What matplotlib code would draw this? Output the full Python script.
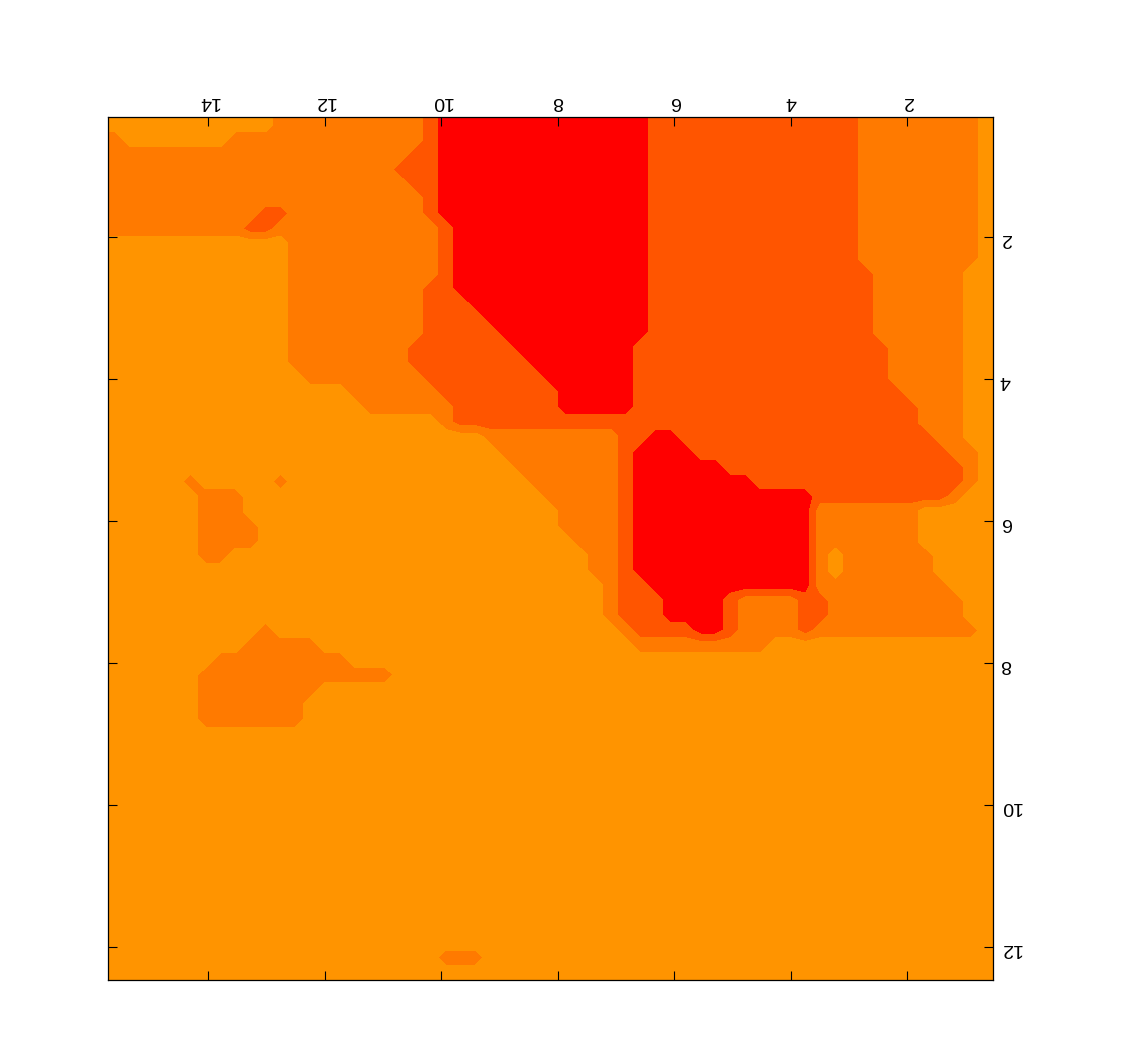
import numpy as np
import matplotlib
matplotlib.use("Agg")
import matplotlib.pyplot as plt

# class levels: 0 = red, 1 = dark orange, 2 = orange, 3 = light orange
level_colors = ["#FF0000", "#FF5500", "#FF7A00", "#FF9400"]
level_bounds = [-0.5, 0.5, 1.5, 2.5, 3.5]

# data extent of the gridded field
x_min, x_max = 0.53, 15.72
y_min, y_max = 0.31, 12.465
n_cols = 59

x_ticks = [2, 4, 6, 8, 10, 12, 14]
y_ticks = [2, 4, 6, 8, 10, 12]

# each row: "level@first_column" change points, rows ordered from y_min to y_max,
# columns ordered from x_max down to x_min
rows = [
    "3@0 2@11 1@21 0@22 1@36 2@50 3@58",
    "2@0 3@1 2@8 1@21 0@22 1@36 2@50 3@58",
    "2@0 1@20 0@22 1@36 2@50 3@58",
    "2@0 1@19 0@22 1@36 2@50 3@58",
    "2@0 1@20 0@22 1@36 2@50 3@58",
    "2@0 1@21 0@22 1@36 2@50 3@58",
    "2@0 1@10 2@12 1@21 0@22 1@36 2@50 3@58",
    "2@0 1@9 2@11 1@22 0@23 1@36 2@50 3@58",
    "3@0 2@12 1@22 0@23 1@36 2@50 3@58",
    "3@0 2@12 1@22 0@23 1@36 2@50 3@58",
    "3@0 2@12 1@22 0@23 1@36 2@51 3@57",
    "3@0 2@12 1@21 0@23 1@36 2@51 3@57",
    "3@0 2@12 1@21 0@24 1@36 2@51 3@57",
    "3@0 2@12 1@21 0@25 1@36 2@51 3@57",
    "3@0 2@12 1@21 0@26 1@36 2@51 3@57",
    "3@0 2@12 1@20 0@27 1@35 2@52 3@57",
    "3@0 2@12 1@20 0@28 1@35 2@52 3@57",
    "3@0 2@13 1@21 0@29 1@35 2@52 3@57",
    "3@0 2@16 1@22 0@30 1@35 2@53 3@57",
    "3@0 2@17 1@23 0@30 1@35 2@54 3@57",
    "3@0 2@22 1@23 2@54 3@57",
    "3@0 2@25 1@34 0@36 1@38 2@55 3@57",
    "3@0 2@26 1@34 0@35 1@39 2@56 3@58",
    "3@0 2@27 1@34 0@35 1@41 2@57 3@58",
    "3@0 2@5 3@6 2@11 3@12 2@28 1@34 0@35 1@43 2@57 3@58",
    "3@0 2@6 3@9 2@29 1@34 0@35 1@47 2@56 3@57",
    "3@0 2@6 3@9 2@30 1@34 0@35 2@47 3@54",
    "3@0 2@6 3@10 2@30 1@34 0@35 2@47 3@54",
    "3@0 2@6 3@10 2@31 1@34 0@35 2@47 3@54",
    "3@0 2@6 3@8 2@32 1@34 0@35 2@47 3@48 2@49 3@55",
    "3@0 2@32 1@34 0@35 2@47 3@48 2@49 3@55",
    "3@0 2@33 1@34 0@36 2@47 3@56",
    "3@0 2@33 1@34 0@37 1@41 2@42 1@46 2@48 3@57",
    "3@0 2@33 1@34 0@37 1@41 2@42 1@46 2@48 3@57",
    "3@0 2@10 3@11 2@34 1@35 0@39 1@41 2@42 1@46 2@47 3@58",
    "3@0 2@9 3@14 2@35 3@44",
    "3@0 2@7 3@16",
    "3@0 2@6 3@19",
    "3@0 2@6 3@14",
    "3@0 2@6 3@13",
    "3@0 2@6 3@13",
    "3@0", "3@0", "3@0", "3@0", "3@0",
    "3@0", "3@0", "3@0", "3@0", "3@0",
    "3@0", "3@0", "3@0", "3@0", "3@0",
    "3@0 2@22 3@25",
    "3@0",
]


def expand(spec, ncols):
    parts = [tuple(int(t) for t in p.split("@")) for p in spec.split()]
    out = np.zeros(ncols, dtype=int)
    for i, (v, s) in enumerate(parts):
        e = parts[i + 1][1] if i + 1 < len(parts) else ncols
        out[s:e] = v
    return out


grid = np.array([expand(r, n_cols) for r in rows])
n_rows = grid.shape[0]

# sample positions: cell centres, plus the field's own edge values at the frame
dx = (x_max - x_min) / n_cols
dy = (y_max - y_min) / n_rows
xc = np.concatenate([[x_max], x_max - (np.arange(n_cols) + 0.5) * dx, [x_min]])
yc = np.concatenate([[y_min], y_min + (np.arange(n_rows) + 0.5) * dy, [y_max]])
field = np.pad(grid, 1, mode="edge")

fig = plt.figure(figsize=(11.44, 10.62), dpi=100)
ax = fig.add_axes([108 / 1144, 82 / 1062, 885 / 1144, 863 / 1062])
ax.set_facecolor(level_colors[3])

ax.contourf(xc, yc, field, levels=level_bounds, colors=level_colors,
            antialiased=False)

ax.set_xlim(x_max, x_min)
ax.set_ylim(y_max, y_min)
ax.set_xticks(x_ticks)
ax.set_yticks(y_ticks)

ax.tick_params(axis="x", which="both", direction="in", length=6.5, width=0.8,
               top=True, bottom=True, labeltop=True, labelbottom=False,
               labelrotation=180, labelsize=14, pad=5)
ax.tick_params(axis="y", which="both", direction="in", length=6.5, width=0.8,
               left=True, right=True, labelright=True, labelleft=False,
               labelrotation=180, labelsize=14, pad=5)
for lab in ax.get_xticklabels() + ax.get_yticklabels():
    lab.set_family(["Liberation Sans", "DejaVu Sans"])

for sp in ax.spines.values():
    sp.set_linewidth(0.9)
    sp.set_color("black")
    sp.set_zorder(5)

fig.savefig("out.png", dpi=100)
